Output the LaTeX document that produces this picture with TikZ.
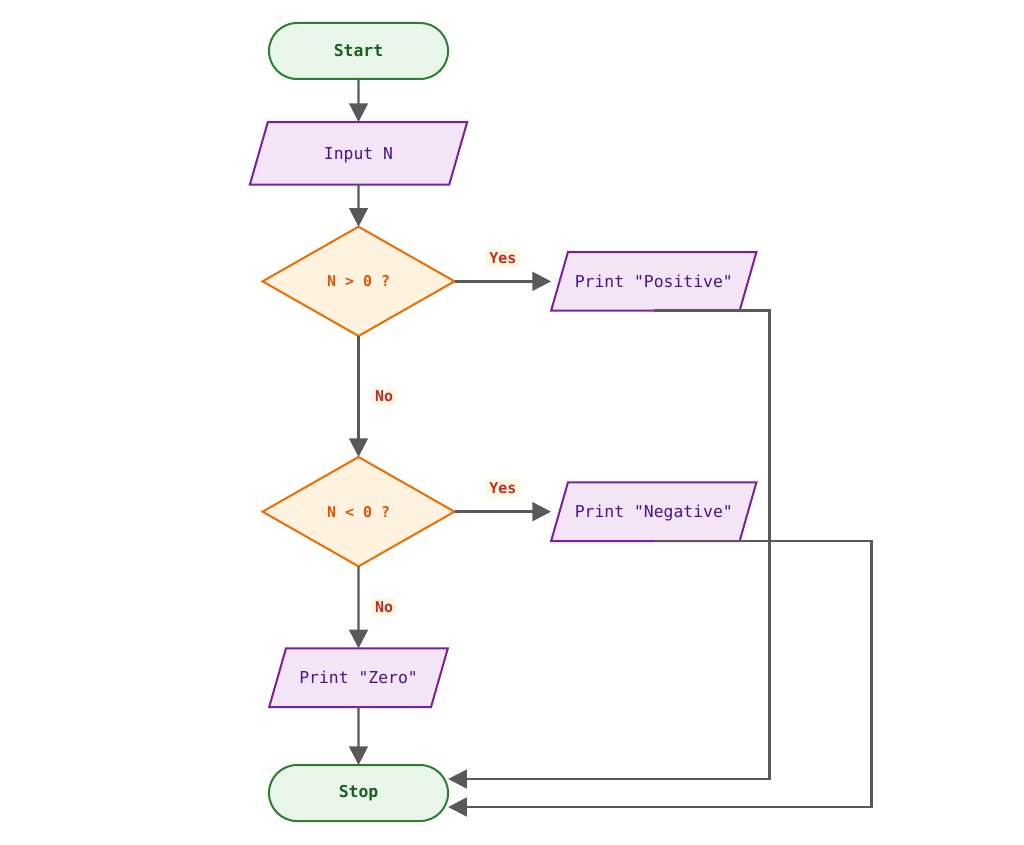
\documentclass[tikz,border=0pt]{standalone}
\usepackage{fontspec}
\setmonofont{DejaVu Sans Mono}
\usetikzlibrary{arrows.meta, positioning, shapes.geometric, shapes.misc, calc}
\definecolor{termfill}{HTML}{E8F5E9}
\definecolor{termline}{HTML}{2E7D32}
\definecolor{termtext}{HTML}{1B5E20}
\definecolor{iofill}{HTML}{F3E5F5}
\definecolor{ioline}{HTML}{7B1FA2}
\definecolor{iotext}{HTML}{4A148C}
\definecolor{decfill}{HTML}{FFF3E0}
\definecolor{decline}{HTML}{EF6C00}
\definecolor{dectext}{HTML}{E65100}
\definecolor{lblfill}{HTML}{FFF8E1}
\definecolor{lbltext}{HTML}{C62828}
\definecolor{flowgray}{RGB}{89,89,89}

\begin{document}
\begin{tikzpicture}[node distance=32pt,
  term/.style={rounded rectangle,draw=termline,fill=termfill,line width=1.5pt,outer sep=0pt,minimum width=141pt,minimum height=42pt,text=termtext,font=\ttfamily\bfseries\fontsize{12.3}{15}\selectfont},
  io/.style={trapezium,trapezium left angle=74,trapezium right angle=106,trapezium stretches body,draw=ioline,fill=iofill,line width=1.5pt,outer sep=0pt,text height=10.25pt,text depth=1.25pt,inner ysep=16.25pt,text=iotext,font=\ttfamily\fontsize{12.3}{15}\selectfont},
  dec/.style={diamond,aspect=1.76,inner sep=0pt,draw=decline,fill=decfill,line width=1.5pt,outer sep=0pt,minimum width=144pt,minimum height=82pt,text=dectext,font=\ttfamily\bfseries\fontsize{11.2}{14}\selectfont},
  lbl/.style={fill=lblfill,text=lbltext,inner sep=2.5pt,font=\ttfamily\bfseries\fontsize{11.2}{14}\selectfont},
  flow/.style={draw=flowgray,line width=1.8pt,-{Triangle[length=14pt,width=14pt]}}]
  \useasboundingbox (-268.9pt,38.25pt) rectangle (499.1pt,-595.5pt);

  % main column
  \node[term] (start) at (0,0) {Start};
  \node[io,minimum width=163pt,inner ysep=17.75pt] (input) [below=32.25pt of start] {Input N};
  \node[dec] (gt) [below=31.5pt of input] {N > 0 ?};
  \node[dec] (lt) [below=90.75pt of gt] {N < 0 ?};
  \node[io,minimum width=134pt] (zero) [below=61.5pt of lt] {Print "Zero"};
  \node[term] (stop) [below=43.5pt of zero] {Stop};

  % outputs on the right
  \node[io,minimum width=154pt] (pos) [right=78.75pt of gt] {Print "Positive"};
  \node[io,minimum width=154pt] (neg) [right=78.75pt of lt] {Print "Negative"};

  \coordinate (r1) at ([xshift=16pt]pos.east);
  \coordinate (r2) at ([xshift=92.6pt]neg.east);
  \coordinate (s1) at ([yshift=10.5pt]stop.east);
  \coordinate (s2) at ([yshift=-10.5pt]stop.east);

  \draw[flow] (start) -- (input);
  \draw[flow] (input) -- (gt);
  \draw[flow] (gt.east) -- node[lbl,above=10pt,midway] {Yes} (gt.east -| pos.bottom left corner);
  \draw[flow] (gt) -- node[lbl,right=9pt,midway] {No} (lt);
  \draw[flow] (lt.east) -- node[lbl,above=10pt,midway] {Yes} (lt.east -| neg.bottom left corner);
  \draw[flow] (lt) -- node[lbl,right=9pt,midway] {No} (zero);
  \draw[flow] (zero) -- (stop);

  % back to stop
  \draw[flow] (pos.center |- pos.south) -| (r1 |- s1) -- (s1);
  \draw[flow] (neg.center |- neg.south) -| (r2 |- s2) -- (s2);
\end{tikzpicture}
\end{document}
